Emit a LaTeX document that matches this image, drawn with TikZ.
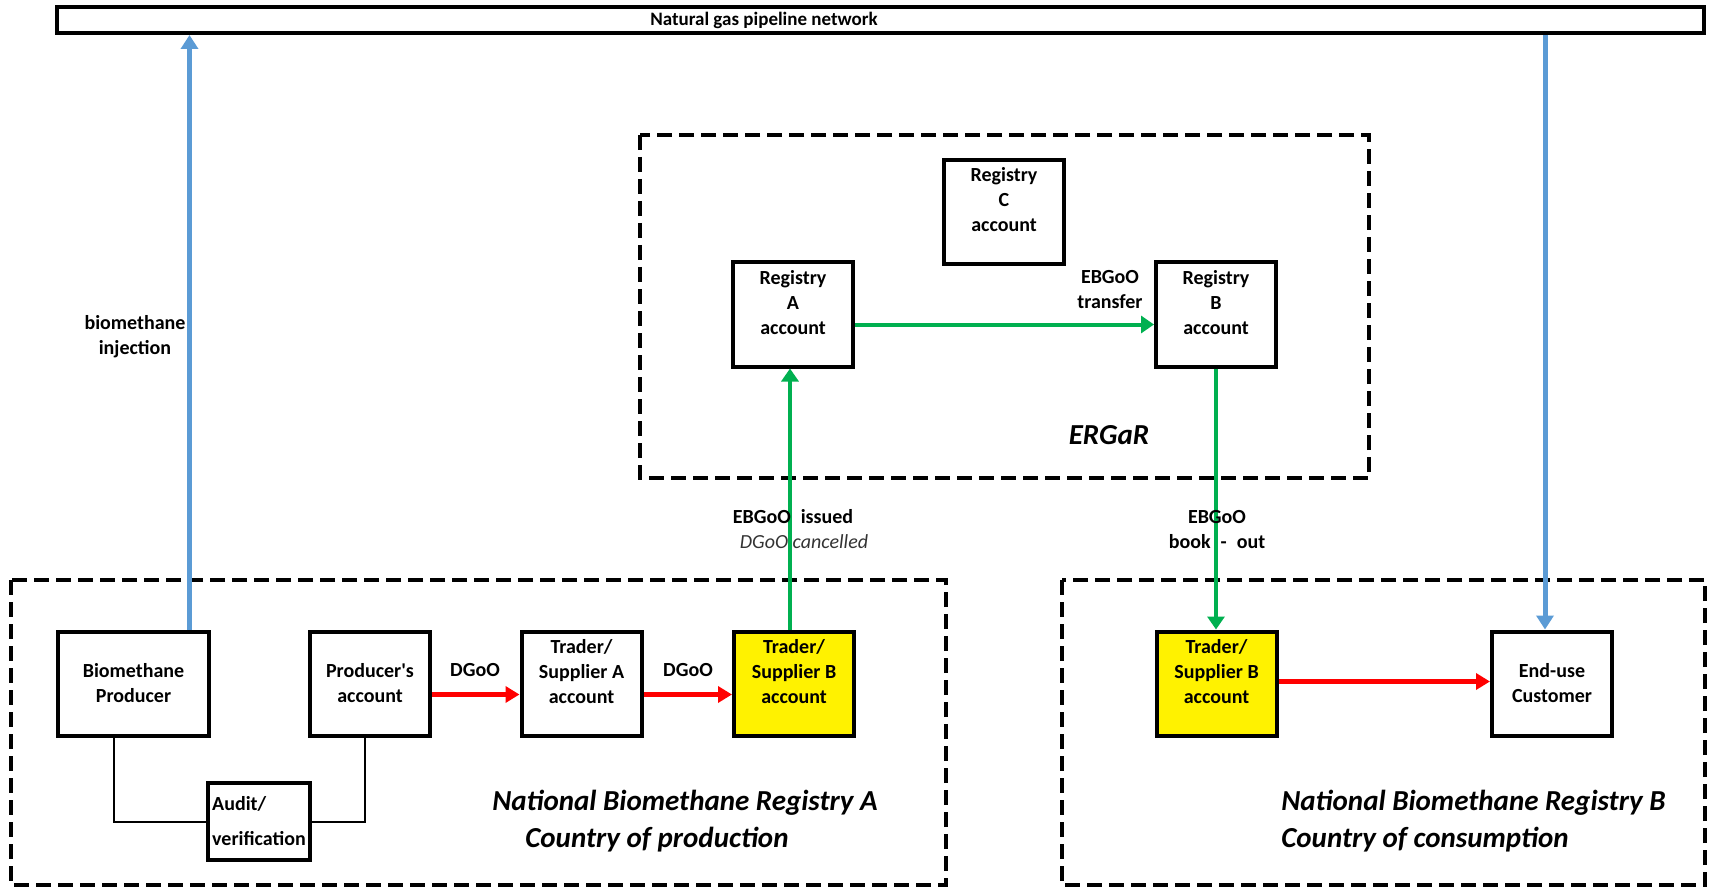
\documentclass[tikz,border=0pt]{standalone}
\usepackage{fontspec}
\setmainfont{Carlito}
\usetikzlibrary{arrows.meta, positioning}
\definecolor{arrgreen}{RGB}{0,176,80}
\definecolor{arrblue}{RGB}{91,155,213}

\begin{document}
\begin{tikzpicture}[x=0.5pt, y=-0.5pt,
  acct/.style={draw, line width=2pt, minimum width=60pt, minimum height=52pt, align=center, inner sep=1pt, font=\fontsize{10}{12.5}\selectfont\bfseries},
  hl/.style={acct, fill=yellow},
  frame/.style={line width=2.2pt, dash pattern=on 7.5pt off 3.5pt},
  lbl/.style={font=\fontsize{10}{12.5}\selectfont\bfseries, align=center, inner sep=0pt},
  title/.style={font=\fontsize{14.5}{18}\selectfont\bfseries\itshape, inner sep=0pt},
  garrow/.style={draw=arrgreen, line width=2pt, -{Triangle[length=6.5pt,width=8.5pt]}},
  rarrow/.style={draw=red, line width=2.5pt, -{Triangle[length=7pt,width=8pt]}},
  barrow/.style={draw=arrblue, line width=2.5pt, -{Triangle[length=7pt,width=8.5pt]}}
]
\useasboundingbox (0,0) rectangle (1721,888);

% Pipeline network
\node[draw, line width=2pt, minimum width=823.5pt, minimum height=13pt, inner sep=0pt] (pipe) at (880.5,20) {};
\node[lbl, font=\fontsize{9.5}{11}\selectfont\bfseries] (pipetxt) at (764,20) {Natural gas pipeline network};

% ERGaR
\draw[frame] (640,135) rectangle (1369,478);
\node[acct] (regc) at (1004,212) {Registry\\C\\account\\ \mbox{}};
\node[acct] (rega) at (793,314.5) {Registry\\A\\account\\ \mbox{}};
\node[acct] (regb) at (1216,314.5) {Registry\\B\\account\\ \mbox{}};
\node[title] (ergar) at (1109,435) {ERGaR};

% National registry A
\draw[frame] (11,580) rectangle (946,885);
\node[acct, minimum width=75.5pt] (prod) at (133.5,683.5) {Biomethane\\Producer};
\node[acct] (pacc) at (370,683.5) {Producer\textquotesingle s\\account};
\node[acct] (tra) at (581.5,683.5) {Trader/\\Supplier A\\account\\ \mbox{}};
\node[hl] (trb) at (794,683.5) {Trader/\\Supplier B\\account\\ \mbox{}};
\node[acct, minimum width=51pt, minimum height=38.5pt, align=left] (audit) at (259,821.5) {Audit/\\[5pt]verification};
\node[title] (nata) at (685,803) {National Biomethane Registry A};
\node[title] (cona) at (657,840) {Country of production};

% National registry B
\draw[frame] (1062,580) rectangle (1705,885);
\node[hl] (trb2) at (1216.5,683.5) {Trader/\\Supplier B\\account\\ \mbox{}};
\node[acct] (cust) at (1552,683.5) {End-use\\Customer};
\node[title, anchor=west] (natb) at (1281,803) {National Biomethane Registry B};
\node[title, anchor=west] (conb) at (1281,840) {Country of consumption};

% gas flow
\draw[barrow] ([xshift=28pt]prod.north) -- ([xshift=28pt]prod.north |- pipe.south);
\draw[barrow] ([xshift=-3.5pt]cust.north |- pipe.south) -- ([xshift=-3.5pt]cust.north);
\node[lbl] (inj) at (135,337) {biomethane\\injection};

% audit links
\draw[line width=1pt] ([xshift=-10pt]prod.south) |- (audit.west);
\draw[line width=1pt] ([xshift=-2.5pt]pacc.south) |- (audit.east);

% DGoO transfers
\draw[rarrow] ([yshift=-5.5pt]pacc.east) -- ([yshift=-5.5pt]tra.west);
\draw[rarrow] ([yshift=-5.5pt]tra.east) -- ([yshift=-5.5pt]trb.west);
\draw[rarrow] ([yshift=1pt]trb2.east) -- ([yshift=1pt]cust.west);
\node[lbl] (dg1) at (475,670) {DGoO};
\node[lbl] (dg2) at (688,670) {DGoO};

% EBGoO transfers
\draw[garrow] ([xshift=-2pt]trb.north) -- ([xshift=-2pt]trb.north |- rega.south);
\draw[garrow] ([yshift=-5pt]rega.east) -- ([yshift=-5pt]regb.west);
\draw[garrow] (regb.south) -- (regb.south |- trb2.north);
\node[lbl] (trans) at (1110,290) {EBGoO\\transfer};
\node[lbl] (issued) at (793,517) {EBGoO\enspace issued};
\node[lbl, font=\fontsize{10}{12.5}\selectfont\itshape, text=black!80] (canc) at (804,542) {DGoO cancelled};
\node[lbl] (bookout) at (1217,529.5) {EBGoO\\book\enspace-\enspace out};
\end{tikzpicture}
\end{document}
